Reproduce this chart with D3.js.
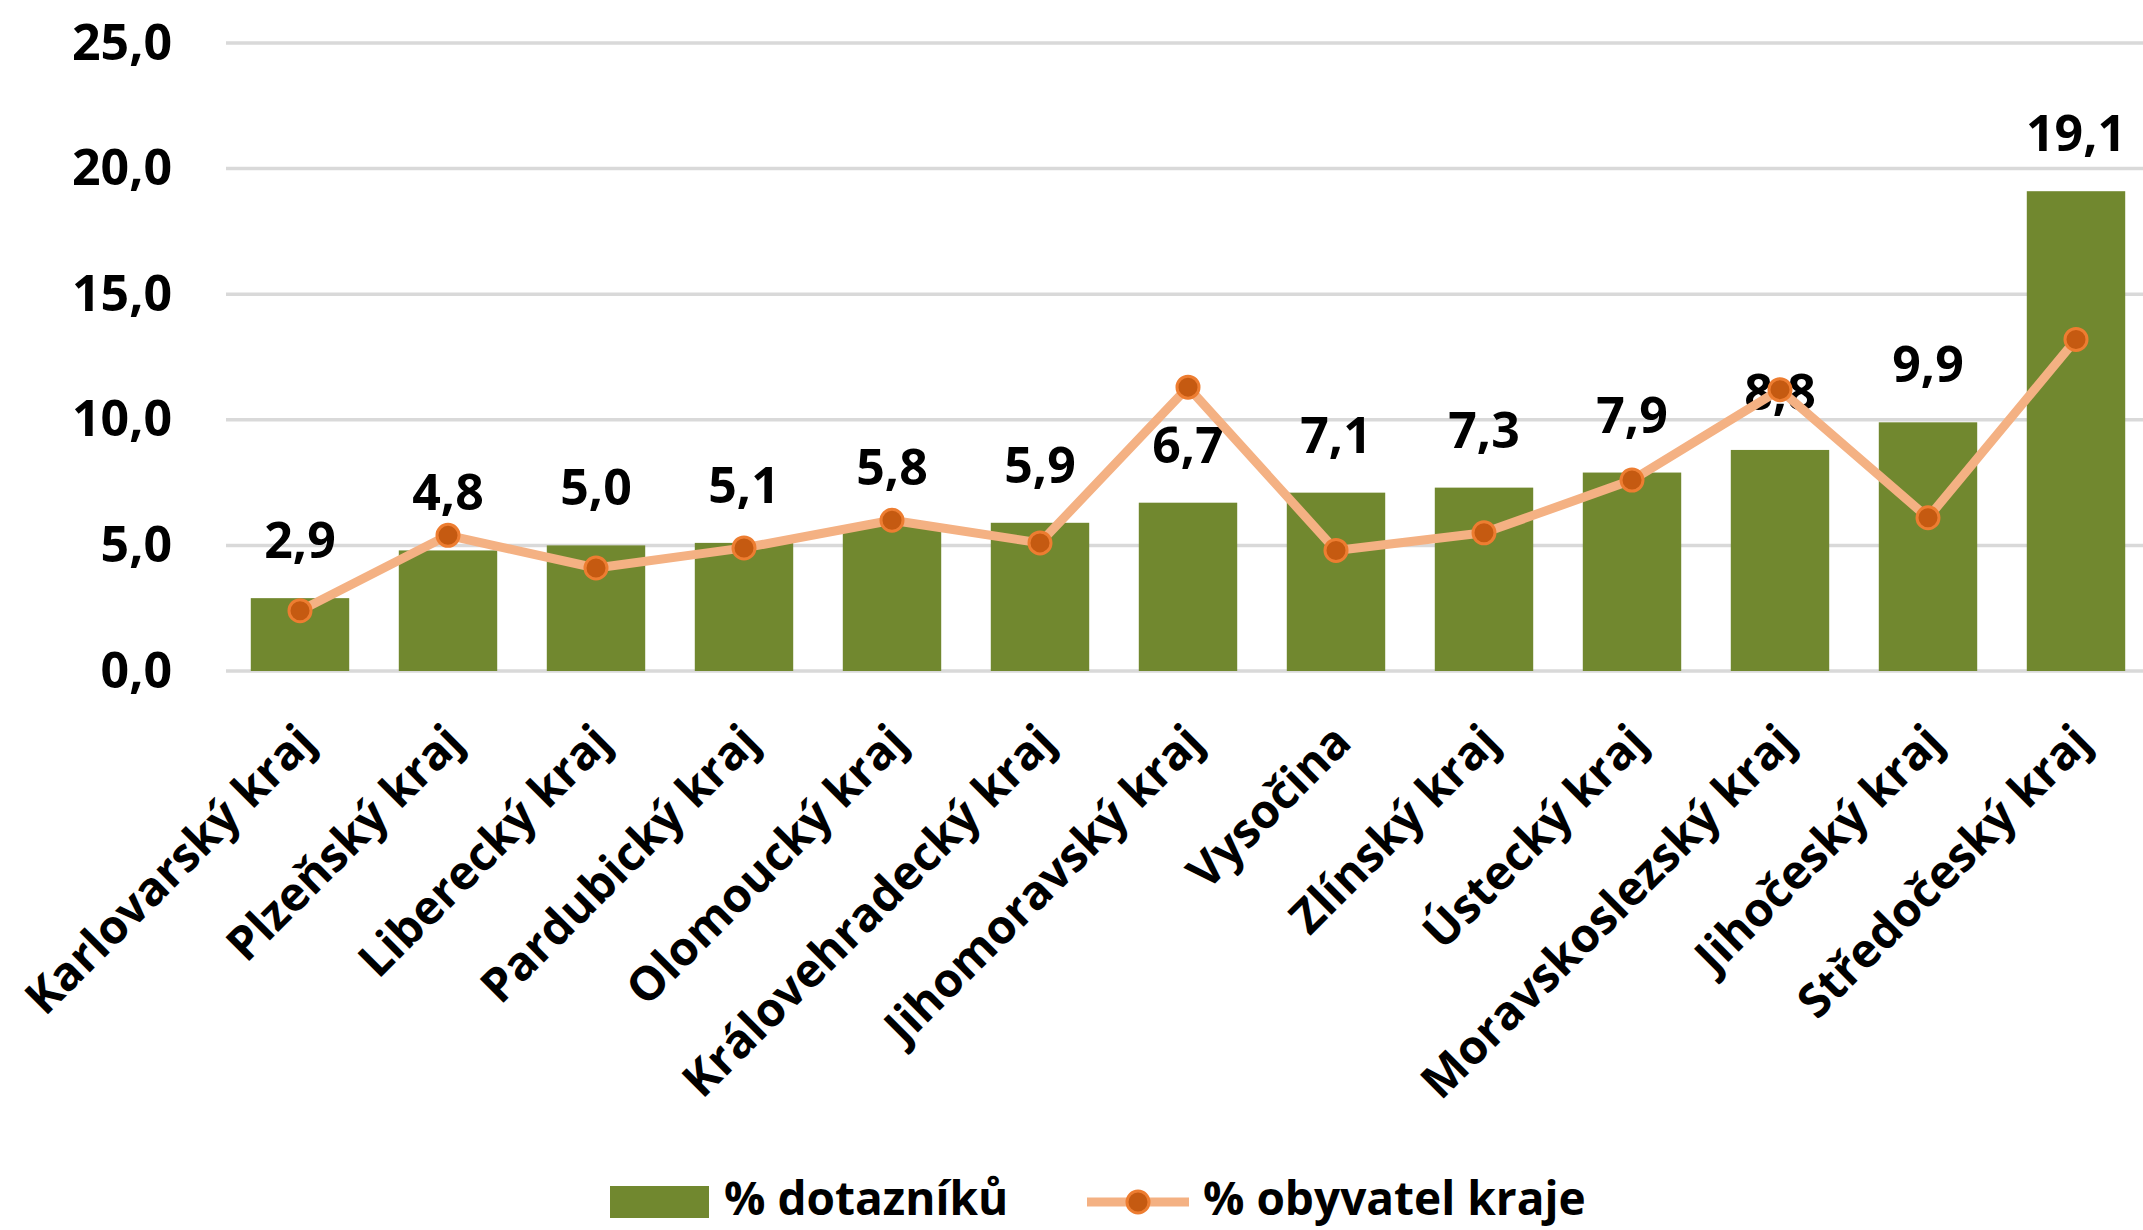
<!DOCTYPE html>
<html>
<head>
<meta charset="utf-8">
<script src="https://cdn.jsdelivr.net/npm/d3@7"></script>
<style>
  html, body { margin: 0; padding: 0; background: #fff; }
  svg { display: block; }
</style>
</head>
<body>
<div id="chart"></div>
<script>
(function () {
  "use strict";

  // data
  var regions = ["Karlovarský kraj", "Plzeňský kraj", "Liberecký kraj", "Pardubický kraj",
    "Olomoucký kraj", "Královehradecký kraj", "Jihomoravský kraj", "Vysočina",
    "Zlínský kraj", "Ústecký kraj", "Moravskoslezský kraj", "Jihočeský kraj", "Středočeský kraj"];
  var questionnaires = [2.9, 4.8, 5.0, 5.1, 5.8, 5.9, 6.7, 7.1, 7.3, 7.9, 8.8, 9.9, 19.1];
  var inhabitants = [2.4, 5.4, 4.1, 4.9, 6.0, 5.1, 11.3, 4.8, 5.5, 7.6, 11.2, 6.1, 13.2];
  var yTicks = [0, 5, 10, 15, 20, 25];
  var seriesNames = ["% dotazníků", "% obyvatel kraje"];

  var width = 2143, height = 1230;
  var font = "'Open Sans', 'Noto Sans', sans-serif";
  var barColor = "#71882f";
  var lineColor = "#f4b183";
  var markerFill = "#c55a11";
  var markerStroke = "#ed7d31";

  var svg = d3.select("#chart").append("svg")
    .attr("width", width)
    .attr("height", height)
    .style("font-family", font);

  var x = d3.scaleBand().domain(regions).range([226, 2150]).paddingInner(0.335).paddingOuter(0.1675);
  var y = d3.scaleLinear().domain([0, 25]).range([671, 43]);

  // gridlines + y labels
  var yAxis = d3.axisLeft(y).tickValues(yTicks).tickSize(0).tickPadding(0)
    .tickFormat(function (d) { return d3.format(".1f")(d).replace(".", ","); });
  var gy = svg.append("g").attr("transform", "translate(172,0)").call(yAxis);
  gy.select(".domain").remove();
  gy.selectAll("text")
    .attr("font-size", "50px")
    .attr("font-weight", "bold")
    .attr("fill", "#000")
    .attr("font-family", font);

  svg.append("g").selectAll("line")
    .data(yTicks)
    .enter().append("line")
    .attr("x1", 226).attr("x2", width)
    .attr("y1", function (d) { return y(d); })
    .attr("y2", function (d) { return y(d); })
    .attr("stroke", "#d9d9d9")
    .attr("stroke-width", 3.5);

  // bars
  svg.append("g").selectAll("rect")
    .data(questionnaires)
    .enter().append("rect")
    .attr("x", function (d, i) { return x(regions[i]); })
    .attr("y", function (d) { return y(d); })
    .attr("width", x.bandwidth())
    .attr("height", function (d) { return y(0) - y(d); })
    .attr("fill", barColor);

  // bar value labels
  svg.append("g").selectAll("text")
    .data(questionnaires)
    .enter().append("text")
    .text(function (d) { return d3.format(".1f")(d).replace(".", ","); })
    .attr("x", function (d, i) { return x(regions[i]) + x.bandwidth() / 2; })
    .attr("y", function (d) { return y(d) - 40; })
    .attr("text-anchor", "middle")
    .attr("font-size", "50px")
    .attr("font-weight", "bold")
    .attr("fill", "#000");

  // x axis category labels, rotated
  var xAxis = d3.axisBottom(x).tickSize(0).tickPadding(0);
  var gx = svg.append("g").attr("transform", "translate(0,671)").call(xAxis);
  gx.select(".domain").remove();
  gx.selectAll("text")
    .attr("font-size", "47px")
    .attr("font-weight", "bold")
    .attr("fill", "#000")
    .attr("font-family", font)
    .attr("text-anchor", "end")
    .attr("dy", "0.35em")
    .attr("transform", "translate(6,62) rotate(-45)");

  // line series
  var line = d3.line()
    .x(function (d, i) { return x(regions[i]) + x.bandwidth() / 2; })
    .y(function (d) { return y(d); });

  svg.append("path")
    .datum(inhabitants)
    .attr("d", line)
    .attr("fill", "none")
    .attr("stroke", lineColor)
    .attr("stroke-width", 9)
    .attr("stroke-linejoin", "round");

  svg.append("g").selectAll("circle")
    .data(inhabitants)
    .enter().append("circle")
    .attr("cx", function (d, i) { return x(regions[i]) + x.bandwidth() / 2; })
    .attr("cy", function (d) { return y(d); })
    .attr("r", 11)
    .attr("fill", markerFill)
    .attr("stroke", markerStroke)
    .attr("stroke-width", 3);

  // legend
  var legend = svg.append("g").attr("font-size", "46px").attr("font-weight", "bold");
  legend.append("rect")
    .attr("x", 610).attr("y", 1186).attr("width", 99).attr("height", 32)
    .attr("fill", barColor);
  legend.append("text")
    .attr("x", 724).attr("y", 1215)
    .text(seriesNames[0]);
  legend.append("line")
    .attr("x1", 1087).attr("x2", 1189).attr("y1", 1202).attr("y2", 1202)
    .attr("stroke", lineColor).attr("stroke-width", 9);
  legend.append("circle")
    .attr("cx", 1138).attr("cy", 1202).attr("r", 11)
    .attr("fill", markerFill).attr("stroke", markerStroke).attr("stroke-width", 3);
  legend.append("text")
    .attr("x", 1203).attr("y", 1215)
    .text(seriesNames[1]);

}());
</script>
</body>
</html>
